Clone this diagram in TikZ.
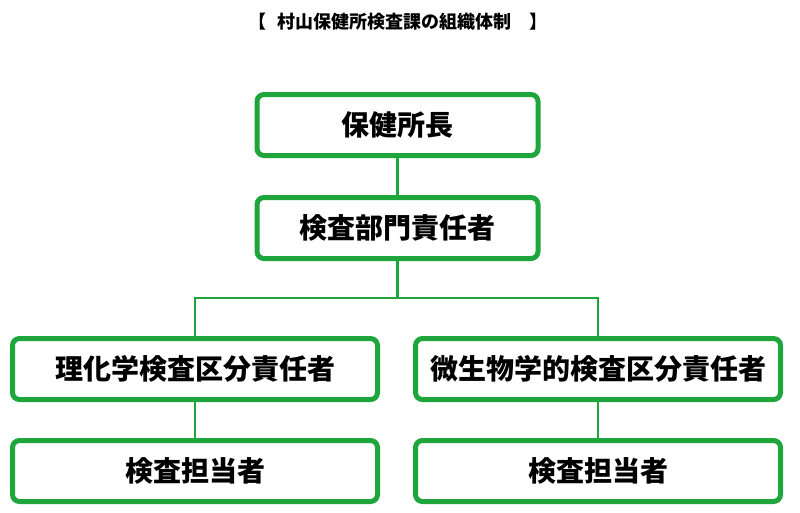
\documentclass[tikz,border=0pt]{standalone}
\usepackage{fontspec}
\usepackage{tikz}
\usetikzlibrary{positioning}
\newfontfamily\cjk{Noto Sans CJK JP}
\definecolor{orggreen}{RGB}{30,165,60}

\tikzset{
  orgbox/.style={draw=orggreen, line width=5pt, rounded corners=7pt, fill=white,
    minimum width=281pt, minimum height=61pt, font=\cjk\bfseries\fontsize{28}{31}\selectfont},
  wide/.style={minimum width=365pt},
  link/.style={draw=orggreen, line width=2.5pt}
}

\begin{document}
\begin{tikzpicture}[x=1pt,y=-1pt]
  \useasboundingbox (0,0) rectangle (800,512);

  \node[font=\cjk\bfseries\fontsize{18}{21}\selectfont] (title) at (398,22) {【\hspace{12pt}村山保健所検査課の組織体制\hspace{18pt}】};

  % top chain
  \node[orgbox] (head) at (397.5,125) {保健所長};
  \node[orgbox] (chief) at (397.5,228) {検査部門責任者};

  % two sections
  \node[orgbox, wide] (chem) at (195,369) {理化学検査区分責任者};
  \node[orgbox, wide] (micro) at (598,369) {微生物学的検査区分責任者};
  \node[orgbox, wide] (staffa) at (195,471) {検査担当者};
  \node[orgbox, wide] (staffb) at (598,471) {検査担当者};

  \coordinate (split) at (397.5,298);

  \draw[link] (head) -- (chief);
  \draw[link] (chief) -- (split);
  \draw[link] (chem.north) |- (split) -| (micro.north);
  \draw[link] (chem) -- (staffa);
  \draw[link] (micro) -- (staffb);
\end{tikzpicture}
\end{document}
